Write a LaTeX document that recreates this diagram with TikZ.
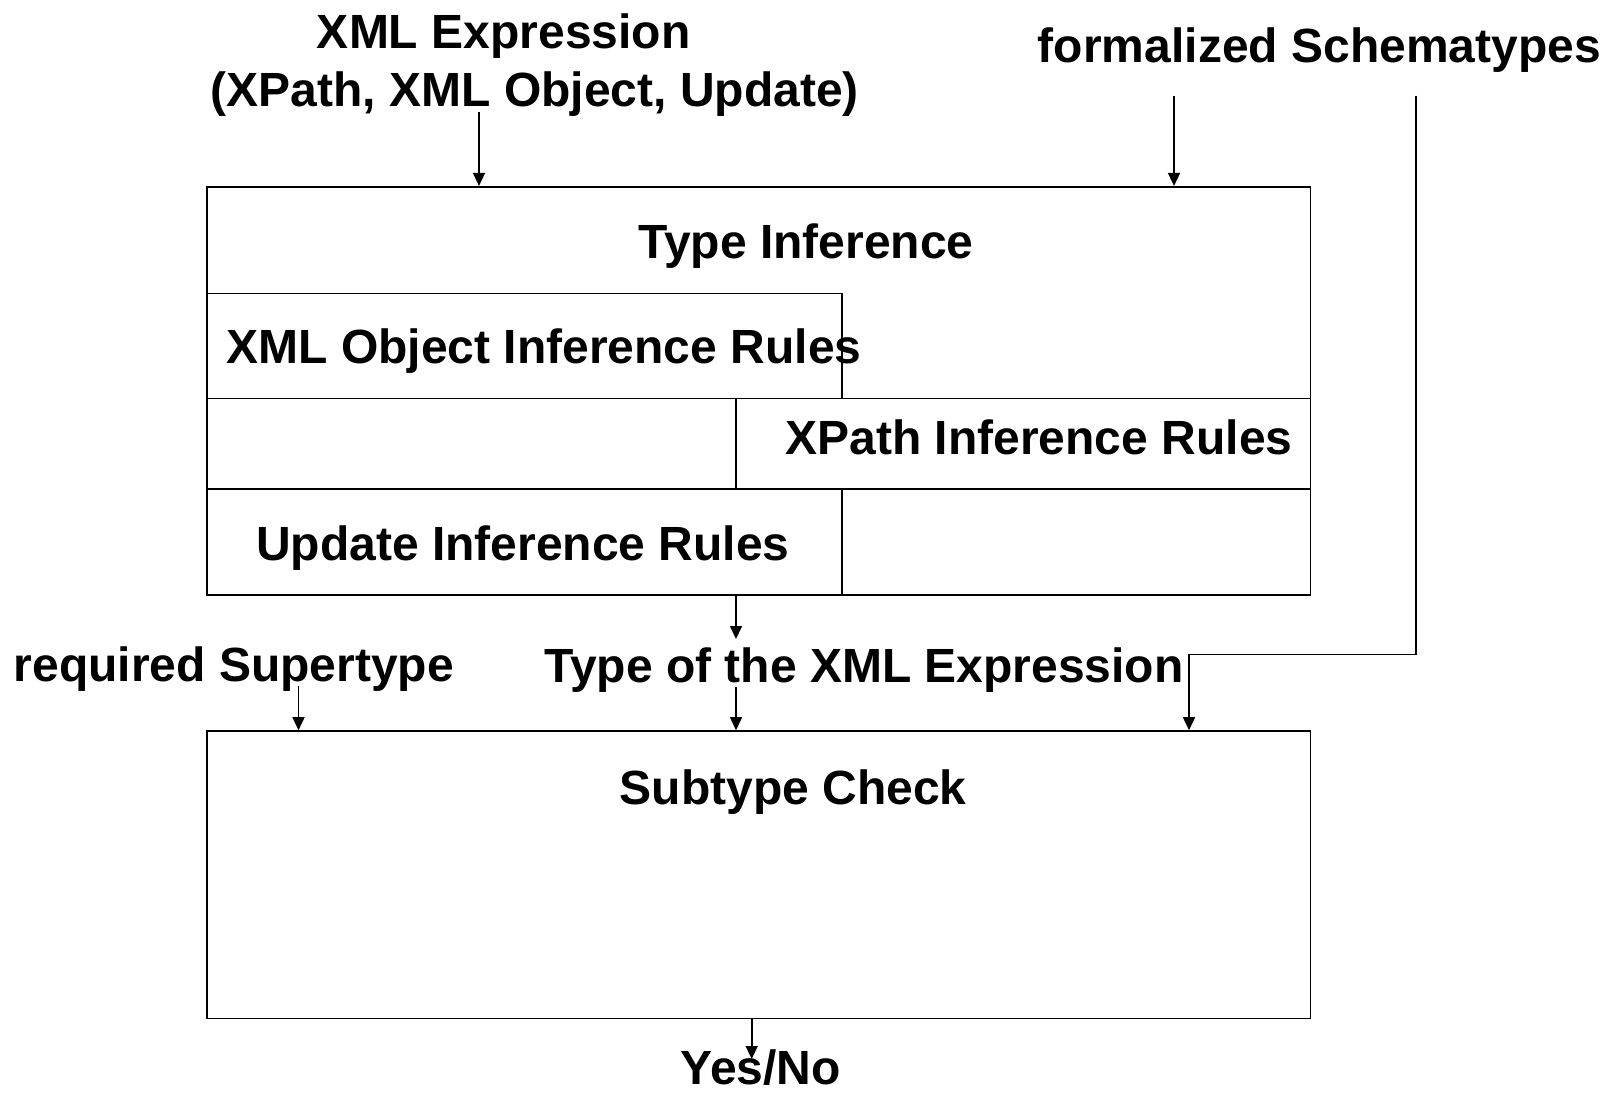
\documentclass[tikz,border=0pt]{standalone}
\usepackage{fontspec}
\setmainfont{Liberation Sans}
\usetikzlibrary{arrows.meta,fit}
\begin{document}
\begin{tikzpicture}[x=0.5pt,y=-0.5pt,
  box/.style={draw,line width=0.8pt,inner sep=0pt},
  lbl/.style={inner sep=0pt,anchor=base,font=\bfseries\fontsize{24}{29}\selectfont},
  arr/.style={line width=0.8pt,-{Triangle[length=6.5pt,width=6pt]}},
  wire/.style={line width=0.8pt}]
\useasboundingbox (0,0) rectangle (1611,1092);

% boxes
\node[box,fit={(206.7,186.7) (1310.5,594.7)}] (ti) {};
\node[box,fit={(206.7,293.3) (841.8,398.3)}] (xo) {};
\node[box,fit={(735.8,398.3) (1310.5,489)}] (xp) {};
\node[box,fit={(206.7,489) (841.8,594.7)}] (up) {};
\node[box,fit={(206.7,731) (1310.5,1018.3)}] (sc) {};

% texts
\node[lbl] (xe1) at (503.7,48.3) {XML Expression};
\node[lbl] (xe2) at (534.8,106.7) {(XPath, XML Object, Update)};
\node[lbl] (fs) at (1319.4,62.2) {formalized Schematypes};
\node[lbl] (tit) at (805.9,258) {Type Inference};
\node[lbl] (xot) at (544,363) {XML Object Inference Rules};
\node[lbl] (xpt) at (1039,454.5) {XPath Inference Rules};
\node[lbl] (upt) at (523,560.5) {Update Inference Rules};
\node[lbl] (rs) at (233.9,681.7) {required Supertype};
\node[lbl] (tx) at (864,682) {Type of the XML Expression};
\node[lbl] (sct) at (793.2,804) {Subtype Check};
\node[lbl] (yn) at (760.8,1084) {Yes/No};

% connector end points
\coordinate (xeOut) at (479,111.7);
\coordinate (fsOut) at (1174,95.7);
\coordinate (fsR) at (1416,95.7);
\coordinate (fsBend) at (1189,654.5);
\coordinate (tOut) at (736,594.7);
\coordinate (tIn) at (736,639);
\coordinate (tOut2) at (736,686.6);
\coordinate (rsOut) at (298.5,686);
\coordinate (scOut) at (751.7,1018.3);
\coordinate (ynIn) at (751.7,1059);

% connectors
\draw[arr] (xeOut) -- (xeOut |- ti.north);
\draw[arr] (fsOut) -- (fsOut |- ti.north);
\draw[arr] (fsR) -- (fsR |- fsBend) -- (fsBend) -- (fsBend |- sc.north);
\draw[arr] (tOut) -- (tIn);
\draw[arr] (tOut2) -- (tOut2 |- sc.north);
\draw[arr] (rsOut) -- (rsOut |- sc.north);
\draw[arr] (scOut) -- (ynIn);
\end{tikzpicture}
\end{document}
